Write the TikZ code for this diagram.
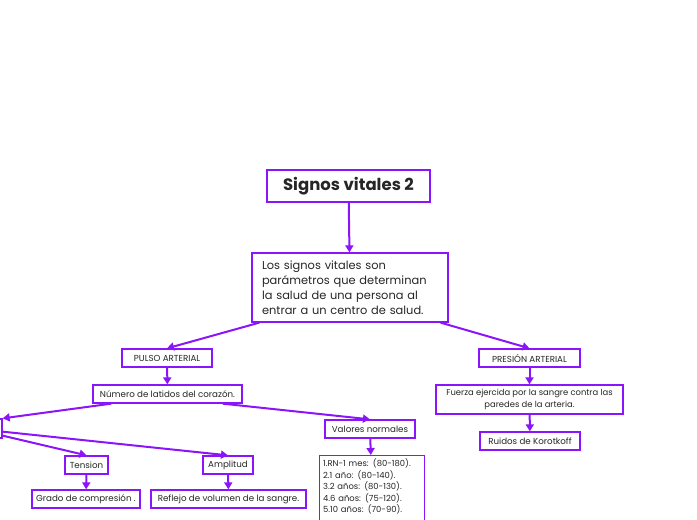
\documentclass[tikz,border=0pt]{standalone}
\usepackage{fontspec}
\setmainfont{Poppins}
\usetikzlibrary{positioning, arrows.meta, calc}
\definecolor{mapViolet}{RGB}{140, 20, 250}

\begin{document}
\begin{tikzpicture}[x=1pt, y=-1pt,
    box/.style={draw=mapViolet, line width=1.3pt, fill=white, inner sep=0pt,
      font=\fontsize{8.7}{10}\selectfont, text=black!85, minimum height=18pt},
    link/.style={draw=mapViolet, line width=2pt, -{Triangle[length=7pt, width=8pt]}}]
    \useasboundingbox (0,0) rectangle (697,520);

    % Titulo
    \node[box, line width=1.6pt, minimum width=163pt, minimum height=32pt,
      font=\fontsize{16.5}{18}\selectfont\bfseries] (title) at (348.5,186) {Signos vitales 2};

    % Definicion
    \node[box, minimum width=196pt, minimum height=69pt, text width=176pt, align=left,
      font=\fontsize{11.4}{15}\selectfont] (def) at (350,287.5)
      {Los signos vitales son\\ parámetros que determinan\\ la salud de una persona al\\ entrar a un centro de salud.};

    % Rama izquierda
    \node[box, minimum width=90pt] (pulso) at (167,358) {PULSO ARTERIAL};
    \node[box, minimum width=149pt] (latidos) at (167.5,394) {Número de latidos del corazón.};
    \node[box, minimum width=64pt, minimum height=19pt] (caract) at (-30,428.5) {};
    \node[box, minimum width=43pt] (tension) at (86.5,465) {Tension};
    \node[box, minimum width=50pt] (amplitud) at (228,465) {Amplitud};
    \node[box, minimum width=108pt] (grado) at (86,499) {Grado de compresión .};
    \node[box, minimum width=155pt] (reflejo) at (228.5,499) {Reflejo de volumen de la sangre.};
    \node[box, minimum width=90pt] (valores) at (370,429) {Valores normales};
    \node[box, anchor=north west, minimum width=105pt, minimum height=0pt, text width=98pt,
      align=left, inner ysep=3pt, font=\fontsize{8.4}{11.6}\selectfont] (lista) at (319,455)
      {1.RN-1 mes: (80-180).\\ 2.1 año: (80-140).\\ 3.2 años: (80-130).\\ 4.6 años: (75-120).\\
       5.10 años: (70-90).\\ \mbox{}\\ \mbox{}};

    % Rama derecha
    \node[box, minimum width=101pt] (presion) at (529.5,358) {PRESIÓN ARTERIAL};
    \node[box, minimum width=187pt, minimum height=29pt, align=center,
      font=\fontsize{8.4}{12}\selectfont] (fuerza) at (529.5,399.5)
      {Fuerza ejercida por la sangre contra las\\ paredes de la arteria.};
    \node[box, minimum width=100pt] (ruidos) at (530,441) {Ruidos de Korotkoff};

    % Conectores
    \draw[link] (title) -- (def);
    \draw[link] ([xshift=8pt]def.south west) -- (pulso.north);
    \draw[link] ([xshift=-8pt]def.south east) -- (presion.north);
    \draw[link] (pulso) -- (latidos);
    \draw[link] ([xshift=19pt]latidos.south west) -- (caract.north east);
    \draw[link] ([xshift=-20pt]latidos.south east) -- (valores.north);
    \draw[link] ([yshift=3pt]caract.south east) -- (tension.north);
    \draw[link] ([yshift=7pt]caract.south east) -- (amplitud.north);
    \draw[link] (tension) -- (grado);
    \draw[link] (amplitud) -- (reflejo);
    \draw[link] (valores) -- (lista);
    \draw[link] (presion) -- (fuerza);
    \draw[link] (fuerza) -- (ruidos);
\end{tikzpicture}
\end{document}
